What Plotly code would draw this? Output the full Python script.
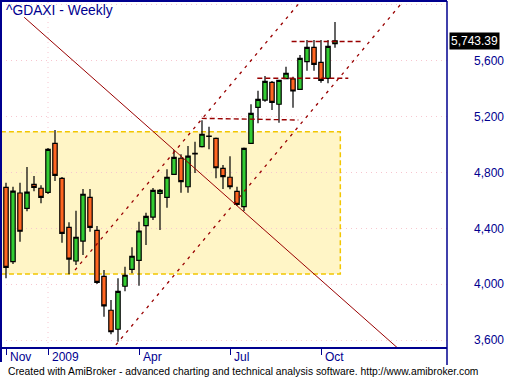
import plotly.graph_objects as go

# ---------------- data (weekly bars, ^GDAXI) ----------------
DATES = [
    "2008-11-21", "2008-11-28", "2008-12-05", "2008-12-12", "2008-12-19", "2008-12-26",
    "2009-01-02", "2009-01-09", "2009-01-16", "2009-01-23", "2009-01-30", "2009-02-06",
    "2009-02-13", "2009-02-20", "2009-02-27", "2009-03-06", "2009-03-13", "2009-03-20",
    "2009-03-27", "2009-04-03", "2009-04-10", "2009-04-17", "2009-04-24", "2009-05-01",
    "2009-05-08", "2009-05-15", "2009-05-22", "2009-05-29", "2009-06-05", "2009-06-12",
    "2009-06-19", "2009-06-26", "2009-07-03", "2009-07-10", "2009-07-17", "2009-07-24",
    "2009-07-31", "2009-08-07", "2009-08-14", "2009-08-21", "2009-08-28", "2009-09-04",
    "2009-09-11", "2009-09-18", "2009-09-25", "2009-10-02", "2009-10-09", "2009-10-16",
]
OPEN = [4694, 4161, 4653, 4543, 4715, 4687, 4658, 5009, 4758, 4407, 4166, 4309,
        4622, 4386, 4056, 3813, 3677, 3985, 4106, 4170, 4419, 4481, 4651, 4622,
        4787, 4902, 4698, 4938, 4985, 5061, 5045, 4830, 4766, 4665, 4555, 5009,
        5267, 5319, 5446, 5289, 5472, 5470, 5396, 5594, 5697, 5589, 5475, 5723]
HIGH = [4727, 4698, 4727, 4839, 4775, 4708, 4975, 5104, 4768, 4443, 4526, 4682,
        4682, 4417, 4101, 3887, 4042, 4125, 4264, 4447, 4512, 4689, 4682, 4823,
        4961, 4930, 4990, 5021, 5174, 5128, 5051, 4854, 4916, 4698, 4979, 5289,
        5386, 5491, 5455, 5463, 5558, 5486, 5642, 5749, 5749, 5749, 5749, 5878]
LOW = [4042, 4144, 4304, 4522, 4665, 4579, 4646, 4739, 4297, 4071, 4137, 4209,
       4376, 4001, 3767, 3641, 3588, 3949, 4078, 3989, 4281, 4460, 4388, 4548,
       4782, 4655, 4655, 4796, 4979, 4966, 4758, 4682, 4680, 4560, 4524, 5004,
       5152, 5307, 5248, 5157, 5470, 5264, 5395, 5529, 5529, 5443, 5439, 5694]
CLOSE = [4121, 4667, 4379, 4660, 4694, 4622, 4966, 4780, 4364, 4180, 4336, 4644,
         4407, 4013, 3844, 3659, 3949, 4064, 4200, 4381, 4485, 4672, 4672, 4766,
         4909, 4734, 4918, 4933, 5074, 5059, 4834, 4770, 4698, 4572, 4973, 5224,
         5324, 5453, 5303, 5460, 5511, 5384, 5618, 5697, 5575, 5460, 5704, 5743.39]

TICK_DATES = ["2008-11-21", "2009-01-02", "2009-04-03", "2009-07-03", "2009-10-02"]
TICK_LABELS = ["Nov", "2009", "Apr", "Jul", "Oct"]
YEAR_DATE = "2009-01-02"
Y_TICKS = [3600, 4000, 4400, 4800, 5200, 5600, 6000]
Y_TICK_LABELS = ["3,600", "4,000", "4,400", "4,800", "5,200", "5,600", "6,000"]

# hand-drawn studies (bar index, price)
DOWN_LINE_X = [2.6, 57.0]
DOWN_LINE_Y = [5912, 3496]
CHANNEL_UP_X = [9.86, 43.0]
CHANNEL_UP_Y = [4101, 6080]
CHANNEL_LOW_X = [15.7, 57.0]
CHANNEL_LOW_Y = [3565, 6042]
HLINE1_X = [27.96, 41.76]
HLINE1_Y = [5188, 5176]
HLINE2_X = [35.9, 48.9]
HLINE2_Y = [5475, 5475]
HLINE3_X = [40.8, 51.0]
HLINE3_Y = [5738, 5738]
ZONE_X = [-0.72, 47.76]
ZONE_Y = [4073, 5092]

TITLE = "^GDAXI - Weekly"
FOOTER = ("Created with AmiBroker - advanced charting and technical analysis software. "
          "http://www.amibroker.com")

# ---------------- figure ----------------
X = list(range(len(DATES)))
X_RANGE = [-0.714, 63.0]
Y_RANGE = [3542.7, 6028.6]
NAVY = "#00008f"
DARKRED = "#990000"
GRID = "#f7c6d0"
FONT = "Liberation Sans, Arial, sans-serif"

fig = go.Figure()
fig.add_trace(go.Candlestick(
    x=X, open=OPEN, high=HIGH, low=LOW, close=CLOSE,
    increasing=dict(fillcolor="#33cc33", line=dict(color="black", width=1.2)),
    decreasing=dict(fillcolor="#ff6622", line=dict(color="black", width=1.2)),
    whiskerwidth=0, showlegend=False, hoverinfo="skip",
))

def add_line(xs, ys, dash, width=1.0):
    fig.add_trace(go.Scatter(x=xs, y=ys, mode="lines", showlegend=False,
                             hoverinfo="skip",
                             line=dict(color=DARKRED, width=width, dash=dash)))

add_line(DOWN_LINE_X, DOWN_LINE_Y, "solid")
add_line(CHANNEL_UP_X, CHANNEL_UP_Y, "3px,5px", 1.3)
add_line(CHANNEL_LOW_X, CHANNEL_LOW_Y, "3px,5px", 1.3)
add_line(HLINE1_X, HLINE1_Y, "5px,3px", 1.4)
add_line(HLINE2_X, HLINE2_Y, "5px,3px", 1.4)
add_line(HLINE3_X, HLINE3_Y, "5px,3px", 1.4)

shapes = [
    dict(type="rect", xref="x", yref="y", x0=ZONE_X[0], x1=ZONE_X[1],
         y0=ZONE_Y[0], y1=ZONE_Y[1], layer="below",
         fillcolor="#fff5c6", line=dict(color="#f2c600", width=1.5, dash="5px,3px")),
    dict(type="line", xref="x", yref="paper", x0=DATES.index(YEAR_DATE),
         x1=DATES.index(YEAR_DATE), y0=0, y1=1, layer="below",
         line=dict(color=GRID, width=1, dash="1px,4px")),
    # frame
    dict(type="line", xref="paper", yref="paper", x0=0, x1=0, y0=-0.04, y1=1.003,
         line=dict(color=NAVY, width=2)),
    dict(type="line", xref="paper", yref="paper", x0=-0.003, x1=1, y0=1, y1=1,
         line=dict(color=NAVY, width=2)),
    dict(type="line", xref="paper", yref="paper", x0=1, x1=1, y0=-0.049, y1=1,
         line=dict(color=NAVY, width=1.5)),
    dict(type="line", xref="paper", yref="paper", x0=0, x1=1, y0=0, y1=0,
         line=dict(color=NAVY, width=2)),
]

annotations = [
    dict(text=TITLE, xref="paper", yref="paper", x=0.0067, y=0.973,
         xanchor="left", yanchor="middle", showarrow=False,
         font=dict(family=FONT, size=13.8, color=NAVY)),
    dict(text=FOOTER, xref="paper", yref="paper", x=0.011, y=-0.0663,
         xanchor="left", yanchor="middle", showarrow=False,
         font=dict(family=FONT, size=10.3, color="black")),
    dict(text=f"{CLOSE[-1]:,.2f}", xref="paper", yref="y", x=1.0045, y=CLOSE[-1],
         xanchor="left", yanchor="middle", showarrow=False, bgcolor="black",
         borderpad=1, font=dict(family=FONT, size=12, color="white")),
]
for d, lab in zip(TICK_DATES, TICK_LABELS):
    annotations.append(dict(text=lab, xref="x", yref="paper", x=DATES.index(d),
                            xshift=2, y=-0.025, xanchor="left", yanchor="middle",
                            showarrow=False,
                            font=dict(family=FONT, size=12, color=NAVY)))

fig.update_layout(
    width=508, height=378,
    margin=dict(l=1, r=61, t=1, b=30, pad=0, autoexpand=False),
    paper_bgcolor="white", plot_bgcolor="white",
    boxgap=0.1, boxgroupgap=0.3,
    shapes=shapes, annotations=annotations,
    xaxis=dict(range=X_RANGE, rangeslider=dict(visible=False), automargin=False,
               tickvals=[DATES.index(d) for d in TICK_DATES], ticktext=TICK_LABELS,
               showticklabels=False, ticks="outside", ticklen=6, tickcolor=NAVY,
               tickwidth=1, showgrid=False, zeroline=False, showline=False),
    yaxis=dict(range=Y_RANGE, side="right", tickvals=Y_TICKS, ticktext=Y_TICK_LABELS,
               ticks="", showgrid=True, gridcolor=GRID, griddash="1px,4px",
               gridwidth=1, zeroline=False, showline=False, ticklabelstandoff=26,
               automargin=False,
               tickfont=dict(family=FONT, size=12, color=NAVY)),
    font=dict(family=FONT),
)

fig.write_html("out.html", config={"displayModeBar": False},
               post_script="document.body.style.margin='0px';"
                           "document.body.style.overflow='hidden';")
